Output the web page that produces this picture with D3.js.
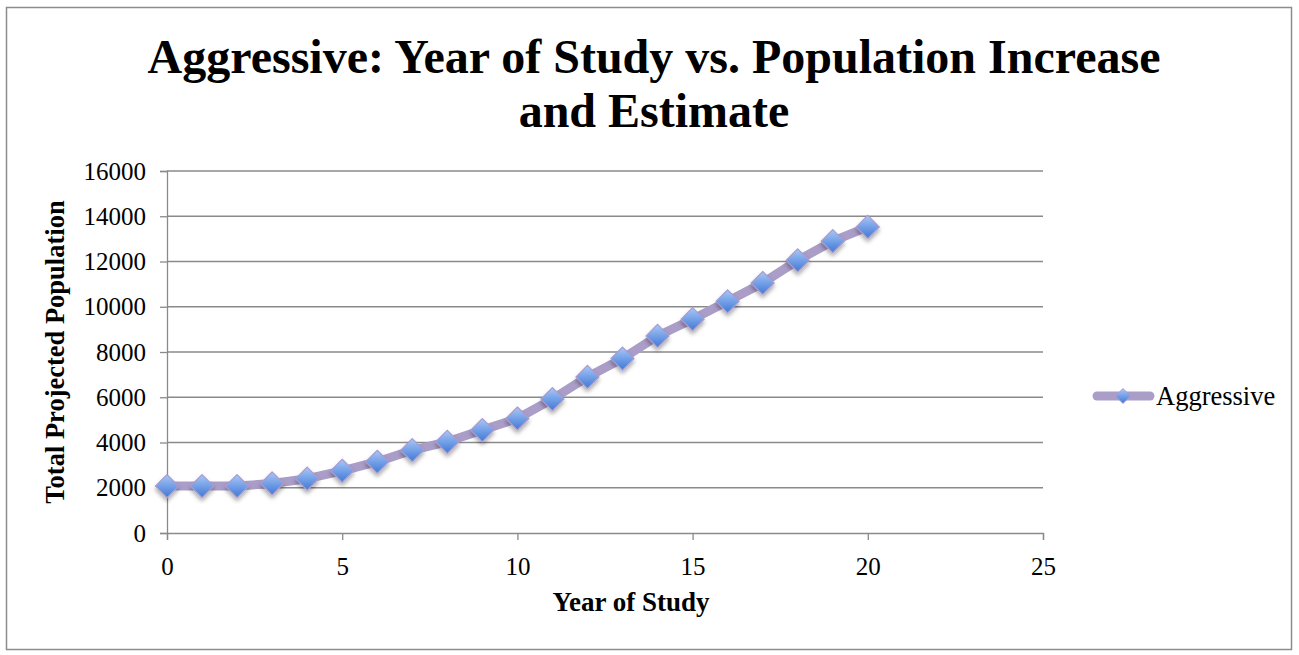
<!DOCTYPE html>
<html>
<head>
<meta charset="utf-8">
<script src="https://cdn.jsdelivr.net/npm/d3@7"></script>
<style>
  html, body { margin: 0; padding: 0; background: #fff; }
  svg text { font-family: "Liberation Serif", "Times New Roman", serif; }
</style>
</head>
<body>
<svg id="chart" width="1299" height="655"></svg>
<script>
const years = [0,1,2,3,4,5,6,7,8,9,10,11,12,13,14,15,16,17,18,19,20];
const population = [2075,2075,2075,2190,2400,2750,3150,3660,4030,4550,5060,5920,6900,7710,8710,9450,10240,11050,12050,12900,13530];
const xTicks = [0,5,10,15,20,25];
const yTicks = [0,2000,4000,6000,8000,10000,12000,14000,16000];
const seriesName = "Aggressive";
const titleLines = ["Aggressive: Year of Study vs. Population Increase", "and Estimate"];
const xTitle = "Year of Study";
const yTitle = "Total Projected Population";

const svg = d3.select("#chart");
const plot = {left: 167, right: 1043, top: 171, bottom: 533};

const x = d3.scaleLinear().domain([0, 25]).range([plot.left, plot.right]);
const y = d3.scaleLinear().domain([0, 16000]).range([plot.bottom, plot.top]);

const defs = svg.append("defs");
const grad = defs.append("linearGradient").attr("id", "mk").attr("x1", 0).attr("y1", 0).attr("x2", 0).attr("y2", 1);
grad.append("stop").attr("offset", "0%").attr("stop-color", "#a9c8f7");
grad.append("stop").attr("offset", "100%").attr("stop-color", "#3f78d6");
const shadow = defs.append("filter").attr("id", "sh").attr("x", "-50%").attr("y", "-50%").attr("width", "200%").attr("height", "200%");
shadow.append("feDropShadow").attr("dx", 0).attr("dy", 3).attr("stdDeviation", 2.2).attr("flood-color", "#000").attr("flood-opacity", 0.35);

// outer border
svg.append("rect").attr("x", 6.5).attr("y", 7.5).attr("width", 1285).attr("height", 642)
  .attr("fill", "#fff").attr("stroke", "#8c8c8c").attr("stroke-width", 1.5);

// title
const title = svg.append("text").attr("text-anchor", "middle").attr("font-weight", "bold")
  .attr("font-size", 48).attr("fill", "#000");
titleLines.forEach((t, i) => {
  title.append("tspan").attr("x", 654).attr("y", 73 + i * 54).text(t);
});

// gridlines
svg.append("g").selectAll("line").data(yTicks.filter(d => d > 0)).join("line")
  .attr("x1", plot.left).attr("x2", plot.right)
  .attr("y1", d => y(d)).attr("y2", d => y(d))
  .attr("stroke", "#8a8a8a").attr("stroke-width", 1.3);

// y axis
const yAxis = svg.append("g").attr("transform", `translate(${plot.left},0)`)
  .call(d3.axisLeft(y).tickValues(yTicks).tickSize(7).tickPadding(14).tickFormat(d3.format("d")));
yAxis.select(".domain").attr("stroke", "#8a8a8a").attr("stroke-width", 1.3);
yAxis.selectAll(".tick line").attr("stroke", "#8a8a8a").attr("stroke-width", 1.3);
yAxis.selectAll(".tick text").attr("font-size", 25).attr("fill", "#000");

// x axis
const xAxis = svg.append("g").attr("transform", `translate(0,${plot.bottom})`)
  .call(d3.axisBottom(x).tickValues(xTicks).tickSize(7).tickPadding(17).tickFormat(d3.format("d")));
xAxis.select(".domain").attr("stroke", "#8a8a8a").attr("stroke-width", 1.3);
xAxis.selectAll(".tick line").attr("stroke", "#8a8a8a").attr("stroke-width", 1.3);
xAxis.selectAll(".tick text").attr("font-size", 25).attr("fill", "#000");

// axis titles
svg.append("text").attr("x", 631).attr("y", 611)
  .attr("text-anchor", "middle").attr("font-weight", "bold").attr("font-size", 27).text(xTitle);
svg.append("text").attr("transform", `translate(64,${(plot.top + plot.bottom) / 2}) rotate(-90)`)
  .attr("text-anchor", "middle").attr("font-weight", "bold").attr("font-size", 26.5).text(yTitle);

// line
const data = years.map((yr, i) => ({yr, v: population[i]}));
svg.append("path").datum(data)
  .attr("d", d3.line().x(d => x(d.yr)).y(d => y(d.v)))
  .attr("fill", "none").attr("stroke", "#aa9dc8").attr("stroke-width", 9)
  .attr("stroke-linejoin", "round").attr("stroke-linecap", "round");

// markers
const diamond = (cx, cy, r) => `M${cx},${cy - r}L${cx + r},${cy}L${cx},${cy + r}L${cx - r},${cy}Z`;
svg.append("g").selectAll("path").data(data).join("path")
  .attr("d", d => diamond(x(d.yr), y(d.v), 11.5))
  .attr("fill", "url(#mk)").attr("stroke", "#a99bd0").attr("stroke-width", 1.2)
  .attr("filter", "url(#sh)");

// legend
const lg = svg.append("g");
lg.append("line").attr("x1", 1097).attr("x2", 1150).attr("y1", 396).attr("y2", 396)
  .attr("stroke", "#aa9dc8").attr("stroke-width", 9).attr("stroke-linecap", "round");
lg.append("path").attr("d", diamond(1123, 396, 7.5)).attr("fill", "url(#mk)")
  .attr("stroke", "#a99bd0").attr("stroke-width", 1);
lg.append("text").attr("x", 1156).attr("y", 405).attr("font-size", 26.5).attr("fill", "#000").text(seriesName);
</script>
</body>
</html>
